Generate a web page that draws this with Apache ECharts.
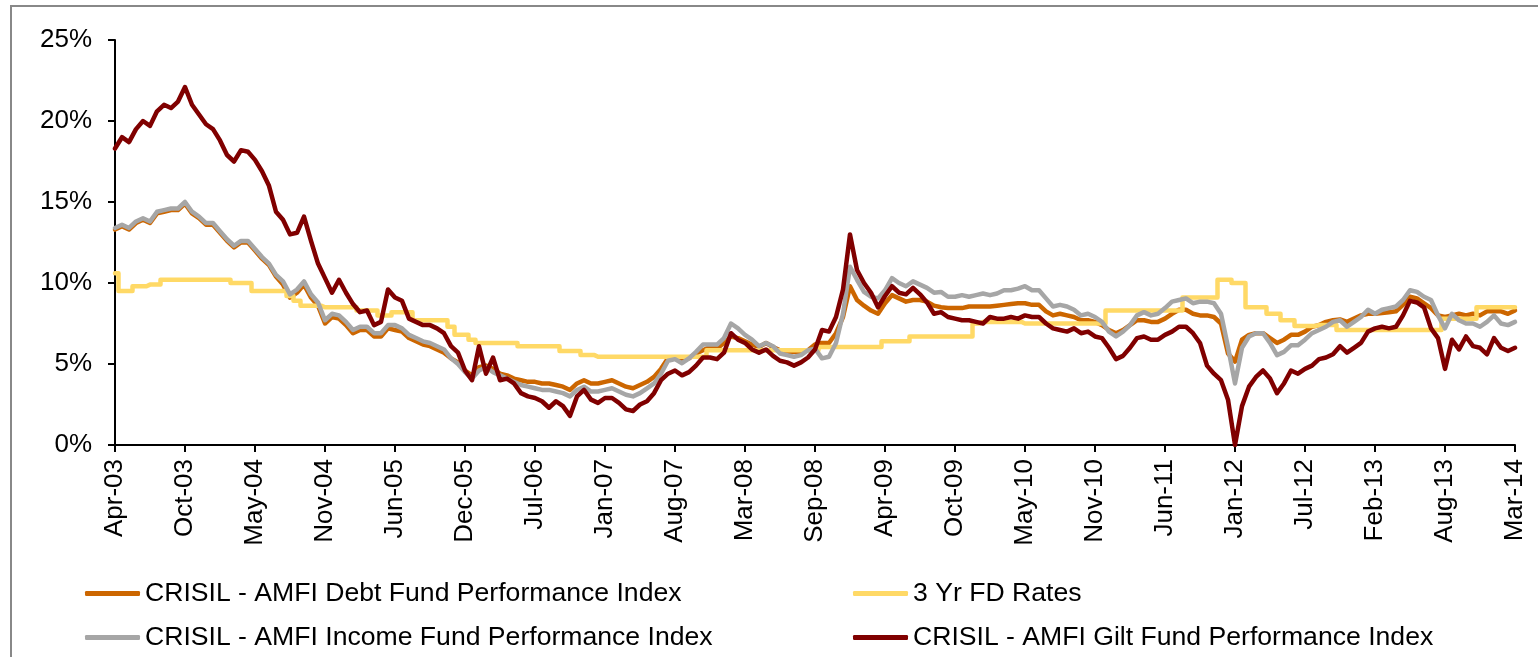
<!DOCTYPE html>
<html>
<head>
<meta charset="utf-8">
<script src="https://cdn.jsdelivr.net/npm/echarts@6/dist/echarts.min.js"></script>
<style>
  html, body { margin: 0; padding: 0; background: #fff; }
  #main { width: 1538px; height: 657px; }
</style>
</head>
<body>
<div id="main"></div>
<script>
// tick labels on the x axis, one every 10 points
const tickLabels = ['Apr-03','Oct-03','May-04','Nov-04','Jun-05','Dec-05','Jul-06','Jan-07','Aug-07','Mar-08','Sep-08',
                    'Apr-09','Oct-09','May-10','Nov-10','Jun-11','Jan-12','Jul-12','Feb-13','Aug-13','Mar-14'];
const pointsPerTick = 10;

const seriesNames = [
    'CRISIL - AMFI Debt Fund Performance Index',
    '3 Yr FD Rates',
    'CRISIL - AMFI Income Fund Performance Index',
    'CRISIL - AMFI Gilt Fund Performance Index'
];

const debt = [
    13.3, 13.5, 13.3, 13.7, 13.9, 13.7, 14.3, 14.4, 14.5, 14.5, 14.9,
    14.3, 14.0, 13.6, 13.6, 13.1, 12.6, 12.2, 12.5, 12.5, 12.0,
    11.5, 11.1, 10.4, 9.9, 9.1, 9.4, 9.9, 9.1, 8.6, 7.5,
    7.9, 7.8, 7.4, 6.9, 7.1, 7.1, 6.7, 6.7, 7.2, 7.1,
    7.0, 6.6, 6.4, 6.2, 6.1, 5.9, 5.7, 5.35, 5.1, 4.6,
    4.3, 4.8, 4.9, 4.7, 4.4, 4.3, 4.1, 4.0, 3.9, 3.9,
    3.8, 3.8, 3.7, 3.6, 3.4, 3.8, 4.0, 3.8, 3.8, 3.9,
    4.0, 3.8, 3.6, 3.5, 3.7, 3.9, 4.2, 4.7, 5.35, 5.4,
    5.15, 5.35, 5.65, 5.85, 6.05, 5.95, 6.3, 6.7, 6.6, 6.4,
    6.2, 6.05, 6.3, 6.05, 5.85, 5.75, 5.75, 5.75, 5.85, 6.2,
    6.3, 6.3, 6.9, 7.9, 9.8, 8.95, 8.6, 8.3, 8.1, 8.75,
    9.25, 9.05, 8.85, 8.95, 8.95, 8.85, 8.6, 8.5, 8.45, 8.45,
    8.45, 8.55, 8.55, 8.55, 8.55, 8.6, 8.65, 8.7, 8.75, 8.75,
    8.65, 8.65, 8.25, 8.0, 8.1, 8.0, 7.9, 7.7, 7.7, 7.6,
    7.4, 7.1, 6.9, 7.1, 7.4, 7.7, 7.7, 7.6, 7.6, 7.8,
    8.1, 8.35, 8.35, 8.1, 8.0, 8.0, 7.9, 7.5, 5.65, 5.15,
    6.5, 6.8, 6.9, 6.9, 6.6, 6.3, 6.5, 6.8, 6.8, 7.0,
    7.3, 7.4, 7.6, 7.7, 7.75, 7.6, 7.8, 8.0, 8.1, 8.1,
    8.15, 8.2, 8.25, 8.65, 9.15, 9.05, 8.75, 8.45, 8.0, 7.9,
    8.0, 8.1, 8.0, 8.1, 8.0, 8.25, 8.25, 8.25, 8.1, 8.3
];

const fdRates = [
    10.6, 9.5, 9.5, 9.8, 9.8, 9.9, 9.9, 10.2, 10.2, 10.2, 10.2,
    10.2, 10.2, 10.2, 10.2, 10.2, 10.2, 10.0, 10.0, 10.0, 9.5,
    9.5, 9.5, 9.5, 9.5, 9.2, 8.9, 8.6, 8.6, 8.6, 8.5,
    8.5, 8.5, 8.5, 8.5, 8.3, 8.3, 8.3, 8.0, 8.0, 8.2,
    8.2, 8.2, 7.7, 7.7, 7.7, 7.7, 7.7, 7.3, 6.8, 6.8,
    6.5, 6.3, 6.3, 6.3, 6.3, 6.3, 6.3, 6.1, 6.1, 6.1,
    6.1, 6.1, 6.1, 5.8, 5.8, 5.8, 5.55, 5.55, 5.45, 5.45,
    5.45, 5.45, 5.45, 5.45, 5.45, 5.45, 5.45, 5.45, 5.45, 5.45,
    5.45, 5.45, 5.45, 5.45, 5.85, 5.85, 5.85, 5.85, 5.85, 5.85,
    5.85, 5.85, 5.85, 5.85, 5.85, 5.85, 5.85, 5.85, 5.85, 5.85,
    6.05, 6.05, 6.05, 6.05, 6.05, 6.05, 6.05, 6.05, 6.05, 6.4,
    6.4, 6.4, 6.4, 6.7, 6.7, 6.7, 6.7, 6.7, 6.7, 6.7,
    6.7, 6.7, 7.5, 7.6, 7.6, 7.6, 7.6, 7.6, 7.6, 7.5,
    7.5, 7.5, 7.5, 7.5, 7.5, 7.5, 7.5, 7.5, 7.5, 7.5,
    7.5, 8.3, 8.3, 8.3, 8.3, 8.3, 8.3, 8.3, 8.3, 8.3,
    8.3, 8.3, 9.1, 9.1, 9.1, 9.1, 9.1, 10.2, 10.2, 10.0,
    10.0, 8.5, 8.5, 8.5, 8.1, 8.1, 7.7, 7.7, 7.35, 7.35,
    7.35, 7.4, 7.4, 7.4, 7.1, 7.1, 7.1, 7.1, 7.1, 7.1,
    7.1, 7.1, 7.1, 7.1, 7.1, 7.1, 7.1, 7.1, 7.1, 7.8,
    7.8, 7.8, 7.8, 7.8, 8.5, 8.5, 8.5, 8.5, 8.5, 8.5
];

const income = [
    13.4, 13.6, 13.4, 13.8, 14.0, 13.8, 14.4, 14.5, 14.6, 14.6, 15.0,
    14.4, 14.1, 13.7, 13.7, 13.2, 12.7, 12.3, 12.6, 12.6, 12.1,
    11.6, 11.2, 10.5, 10.1, 9.3, 9.6, 10.1, 9.3, 8.8, 7.7,
    8.1, 8.0, 7.6, 7.1, 7.3, 7.3, 6.9, 6.9, 7.4, 7.4,
    7.2, 6.8, 6.6, 6.4, 6.3, 6.1, 5.9, 5.35, 5.0, 4.5,
    4.1, 4.6, 4.8, 4.5, 4.3, 4.1, 3.9, 3.7, 3.6, 3.5,
    3.4, 3.4, 3.3, 3.2, 3.0, 3.4, 3.6, 3.3, 3.3, 3.4,
    3.5, 3.3, 3.1, 3.0, 3.2, 3.5, 3.8, 4.4, 5.2, 5.3,
    5.05, 5.35, 5.75, 6.2, 6.2, 6.2, 6.6, 7.5, 7.2, 6.8,
    6.5, 6.1, 6.3, 6.1, 5.65, 5.55, 5.45, 5.55, 5.85, 5.95,
    5.35, 5.45, 6.3, 8.1, 11.0, 10.2, 9.45, 9.15, 9.05, 9.55,
    10.3, 10.0, 9.8, 10.1, 9.9, 9.7, 9.4, 9.45, 9.15, 9.15,
    9.25, 9.15, 9.25, 9.35, 9.25, 9.35, 9.55, 9.55, 9.65, 9.8,
    9.55, 9.55, 9.05, 8.55, 8.65, 8.55, 8.35, 8.0, 8.1, 7.9,
    7.6, 7.0, 6.7, 7.0, 7.4, 8.0, 8.2, 8.0, 8.1, 8.45,
    8.85, 8.95, 9.05, 8.75, 8.85, 8.85, 8.75, 8.1, 6.05, 3.8,
    6.0, 6.7, 6.9, 6.9, 6.3, 5.55, 5.75, 6.15, 6.15, 6.5,
    6.9, 7.1, 7.3, 7.6, 7.7, 7.3, 7.6, 7.9, 8.35, 8.1,
    8.35, 8.45, 8.55, 8.95, 9.55, 9.45, 9.15, 8.95, 8.0, 7.2,
    8.1, 7.7, 7.5, 7.5, 7.3, 7.6, 8.0, 7.5, 7.4, 7.6
];

const gilt = [
    18.3, 19.0, 18.7, 19.5, 20.0, 19.7, 20.6, 21.0, 20.8, 21.2, 22.1,
    21.0, 20.4, 19.8, 19.5, 18.8, 17.9, 17.5, 18.2, 18.1, 17.6,
    16.9, 16.0, 14.4, 13.9, 13.0, 13.1, 14.1, 12.6, 11.2, 10.3,
    9.4, 10.2, 9.4, 8.7, 8.2, 8.3, 7.4, 7.6, 9.6, 9.1,
    8.9, 7.8, 7.6, 7.4, 7.4, 7.2, 6.9, 6.1, 5.7, 4.6,
    4.0, 6.1, 4.4, 5.4, 4.0, 4.1, 3.8, 3.2, 3.0, 2.9,
    2.7, 2.3, 2.7, 2.4, 1.8, 3.0, 3.4, 2.8, 2.6, 2.9,
    2.9, 2.6, 2.2, 2.1, 2.5, 2.7, 3.2, 4.0, 4.4, 4.6,
    4.3, 4.5, 4.9, 5.4, 5.4, 5.3, 5.7, 6.9, 6.5, 6.3,
    5.9, 5.7, 5.9, 5.5, 5.2, 5.1, 4.9, 5.1, 5.4, 5.9,
    7.1, 7.0, 7.9, 9.6, 13.0, 10.8, 10.0, 9.4, 8.5, 9.2,
    9.8, 9.4, 9.3, 9.7, 9.3, 8.8, 8.1, 8.2, 7.9, 7.8,
    7.7, 7.7, 7.6, 7.5, 7.9, 7.8, 7.8, 7.9, 7.8, 8.0,
    7.9, 7.9, 7.5, 7.2, 7.1, 7.0, 7.2, 6.9, 7.0, 6.7,
    6.6, 6.0, 5.3, 5.5, 6.0, 6.6, 6.7, 6.5, 6.5, 6.8,
    7.0, 7.3, 7.3, 6.9, 6.3, 4.9, 4.4, 4.0, 2.8, 0.0,
    2.4, 3.6, 4.2, 4.6, 4.1, 3.2, 3.8, 4.6, 4.4, 4.7,
    4.9, 5.3, 5.4, 5.6, 6.1, 5.7, 6.0, 6.3, 7.0, 7.2,
    7.3, 7.2, 7.3, 8.0, 8.9, 8.8, 8.5, 7.2, 6.6, 4.7,
    6.5, 5.9, 6.7, 6.1, 6.0, 5.6, 6.6, 6.0, 5.8, 6.0
];

const colors = ['#CC6600', '#FFD966', '#A6A6A6', '#800000'];

const fontName = '"Liberation Sans", Arial, sans-serif';

// one category per point, only every 10th gets a label
const categories = debt.map((v, i) => i % pointsPerTick === 0 ? tickLabels[i / pointsPerTick] : '');

const chart = echarts.init(document.getElementById('main'));

function lineSeries(name, data, color, extra) {
    return Object.assign({
        name: name,
        type: 'line',
        data: data,
        showSymbol: false,
        symbol: 'none',
        lineStyle: { color: color, width: 4.5, cap: 'round', join: 'round' },
        itemStyle: { color: color }
    }, extra || {});
}

function legendBlock(left, names) {
    return {
        orient: 'vertical',
        left: left,
        top: 580,
        padding: 0,
        itemWidth: 55,
        itemHeight: 5,
        itemGap: 17,
        icon: 'roundRect',
        data: names,
        textStyle: { fontSize: 26.6, color: '#000', fontFamily: fontName }
    };
}

const option = {
    animation: false,
    textStyle: { fontFamily: fontName },
    graphic: [{
        type: 'rect',
        shape: { x: 11, y: 6, width: 1600, height: 700 },
        style: { fill: 'none', stroke: '#888888', lineWidth: 2 },
        silent: true
    }],
    grid: { left: 115, right: 23, top: 40, bottom: 212 },
    legend: [
        legendBlock(85, [seriesNames[0], seriesNames[2]]),
        legendBlock(853, [seriesNames[1], seriesNames[3]])
    ],
    xAxis: {
        type: 'category',
        data: categories,
        boundaryGap: false,
        axisLine: { lineStyle: { color: '#000', width: 2 } },
        axisTick: { interval: pointsPerTick - 1, length: 7, lineStyle: { color: '#000', width: 2 } },
        axisLabel: {
            interval: pointsPerTick - 1,
            rotate: 90,
            margin: 14,
            fontSize: 26,
            color: '#000',
            fontFamily: fontName
        },
        splitLine: { show: false }
    },
    yAxis: {
        type: 'value',
        min: 0,
        max: 25,
        interval: 5,
        axisLine: { show: true, lineStyle: { color: '#000', width: 2 } },
        axisTick: { show: true, length: 7, lineStyle: { color: '#000', width: 2 } },
        axisLabel: {
            formatter: '{value}%',
            margin: 23,
            fontSize: 26,
            color: '#000',
            fontFamily: fontName
        },
        splitLine: { show: false }
    },
    series: [
        lineSeries(seriesNames[0], debt, colors[0]),
        lineSeries(seriesNames[1], fdRates, colors[1], { step: 'middle' }),
        lineSeries(seriesNames[2], income, colors[2]),
        lineSeries(seriesNames[3], gilt, colors[3])
    ]
};

chart.setOption(option);
</script>
</body>
</html>
